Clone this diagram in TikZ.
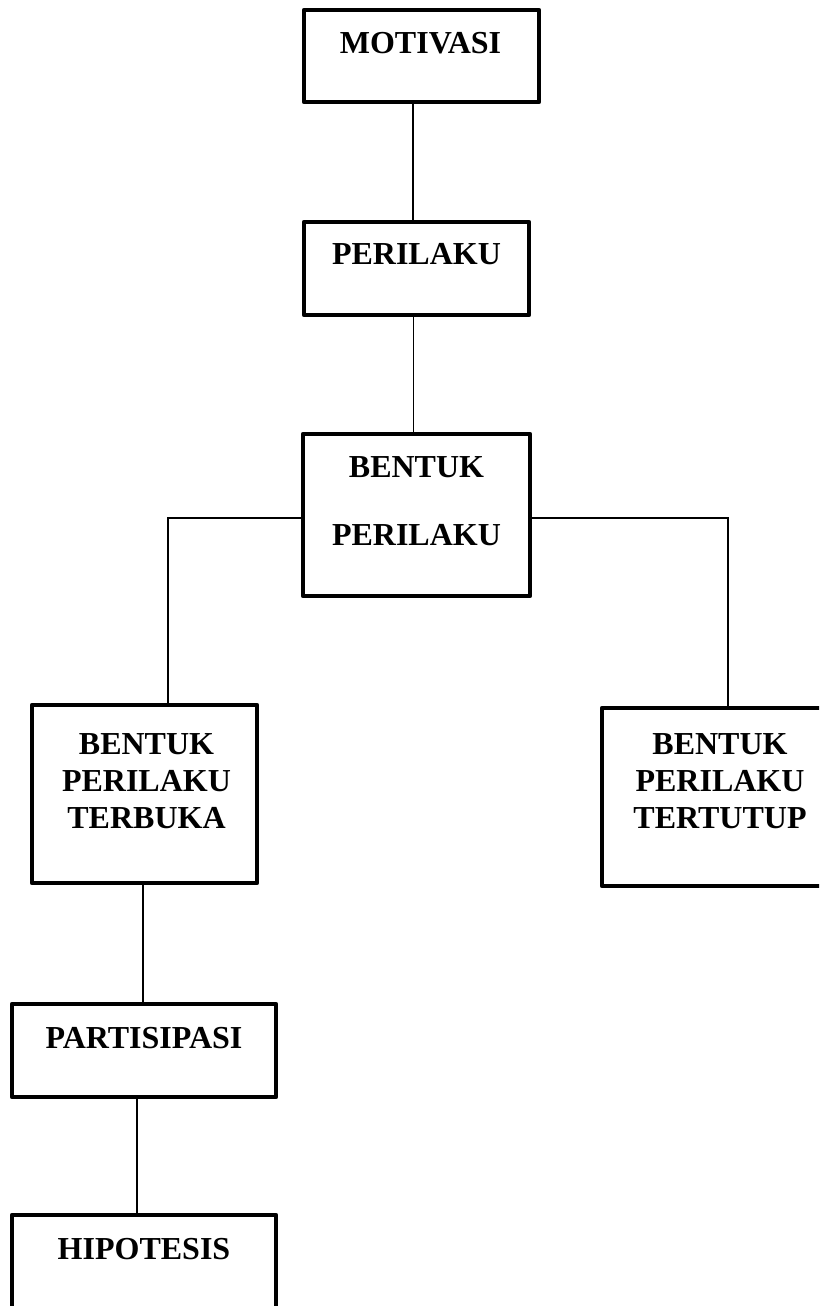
\documentclass[tikz,border=0pt]{standalone}
\usepackage{fontspec}
\setmainfont{Liberation Serif}
\begin{document}
\begin{tikzpicture}[x=1pt,y=-1pt,
  box/.style={draw=black, line width=4.5pt, line join=round, rectangle, inner sep=0pt, outer sep=0pt, fill=white},
  lbl/.style={anchor=north, inner sep=0pt, align=center, font=\fontsize{32}{37}\selectfont\bfseries},
  conn/.style={draw=black, line width=1.3pt}]
\useasboundingbox (0,0) rectangle (819,1306);
\clip (0,0) rectangle (819,1306);
\node[box, minimum width=235pt, minimum height=92pt] (mot) at (421.5,56) {};
\node[box, minimum width=225pt, minimum height=93pt] (per) at (416.5,268.5) {};
\node[box, minimum width=227pt, minimum height=162pt] (bp) at (416.5,515) {};
\node[box, minimum width=225pt, minimum height=178pt] (terb) at (144.5,794) {};
\node[box, minimum width=236pt, minimum height=178pt] (tert) at (720,797) {};
\node[box, minimum width=264pt, minimum height=93pt] (part) at (144,1050.5) {};
\node[box, minimum width=264pt, minimum height=100pt] (hip) at (144,1265) {};

\draw[conn] ([xshift=-8.5pt]mot.south) -- ([xshift=-3.5pt]per.north);
\draw[conn] ([xshift=-3pt]per.south) -- ([xshift=-3pt]bp.north);
\draw[conn] ([yshift=-3pt]bp.west) -| ([xshift=23.5pt]terb.north);
\draw[conn] ([yshift=-3pt]bp.east) -| ([xshift=8pt]tert.north);
\draw[conn] ([xshift=-1.5pt]terb.south) -- ([xshift=-1pt]part.north);
\draw[conn] ([xshift=-7pt]part.south) -- ([xshift=-7pt]hip.north);

\node[lbl] (motT) at (420.5,32) {MOTIVASI};
\node[lbl] (perT) at (416.5,243) {PERILAKU};
\node[lbl] (bpT) at (416.5,456) {BENTUK\\[31pt]PERILAKU};
\node[lbl] (terbT) at (146.5,733) {BENTUK\\PERILAKU\\TERBUKA};
\node[lbl] (tertT) at (720,733) {BENTUK\\PERILAKU\\TERTUTUP};
\node[lbl] (partT) at (144,1027) {PARTISIPASI};
\node[lbl] (hipT) at (144,1238) {HIPOTESIS};
\end{tikzpicture}
\end{document}
